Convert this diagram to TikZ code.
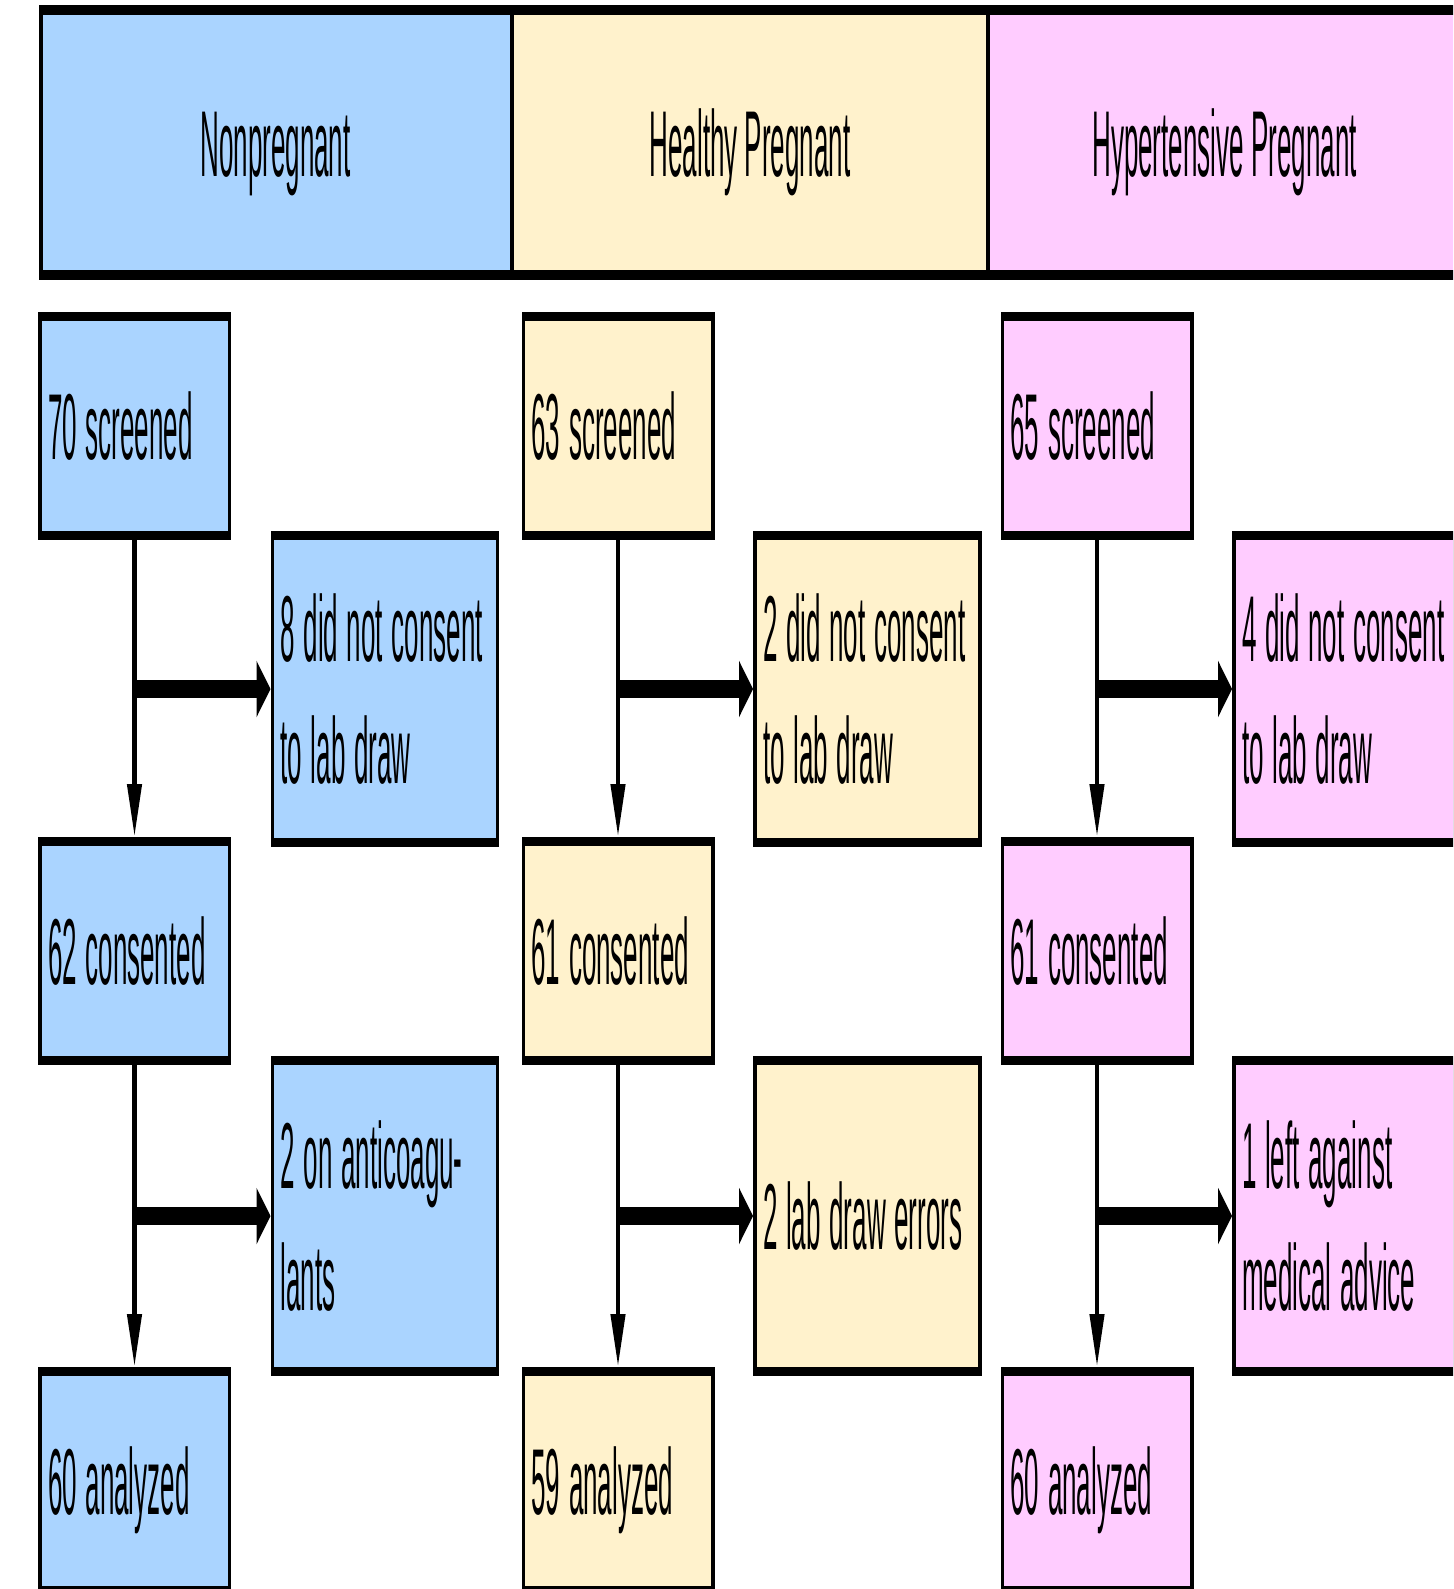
\documentclass[tikz,border=0pt]{standalone}
\usepackage{fontspec}
\setmainfont{Liberation Sans}
\usepackage{graphicx}
\usepackage{array}
\usetikzlibrary{arrows.meta}
\definecolor{cblue}{RGB}{170,212,255}
\definecolor{cyel}{RGB}{255,242,204}
\definecolor{cpink}{RGB}{255,204,255}
\newcommand\rowstrut{\rule[-3.825pt]{0pt}{16.96pt}}
\newcommand\vtext[1]{\scalebox{1}[3.6]{\renewcommand\arraystretch{0}\begin{tabular}{@{}>{\rowstrut}l@{}}#1\end{tabular}}}
\tikzset{
  pbox/.style={fill=black, inner ysep=0pt, inner xsep=5pt, outer sep=0pt, align=left,
    path picture={\fill[#1] ([shift={(1.75pt,-4.5pt)}]path picture bounding box.north west) rectangle ([shift={(-1.75pt,4.5pt)}]path picture bounding box.south east);}},
  mainbox/.style={pbox=#1, minimum width=96.5pt, minimum height=114pt, text width=86.5pt},
  sidebox/.style={pbox=#1, minimum width=114.25pt, text width=104.25pt},
  headcell/.style={fill=#1, draw=none, inner sep=0pt, outer sep=0pt, minimum height=137.25pt, align=center},
  vline/.style={line width=2.2pt, -{Triangle[length=26.5pt, width=7pt]}},
  harrow/.style={line width=9pt, -{Triangle[length=7pt, width=28pt]}}
}
\begin{document}
\begin{tikzpicture}[x=0.5pt, y=-0.5pt, font=\fontsize{13pt}{16.96pt}\selectfont]
\useasboundingbox (0,0) rectangle (1453,1589);
\clip (0,0) rectangle (1453,1589);
% header
\node[headcell=cblue, minimum width=236.5pt] (h1) at (275.5,142.75) {\vtext{Nonpregnant}};
\node[headcell=cyel, minimum width=238pt] (h2) at (750,142.75) {\vtext{Healthy Pregnant}};
\node[headcell=cpink, minimum width=236.5pt] (h3) at (1224.5,142.75) {\vtext{Hypertensive Pregnant}};
\fill (h1.north west) rectangle ([yshift=-4.75pt]h3.north east);
\fill ([yshift=5pt]h1.south west) rectangle (h3.south east);
\fill (h1.north west) rectangle ([xshift=1.75pt]h1.south west);
\fill ([xshift=-0.875pt]h1.north east) rectangle ([xshift=0.875pt]h1.south east);
\fill ([xshift=-0.875pt]h2.north east) rectangle ([xshift=0.875pt]h2.south east);
\fill ([xshift=-1.75pt]h3.north east) rectangle (h3.south east);
% column 1
\node[mainbox=cblue] (a1) at (134.5,426) {\vtext{70 screened}};
\node[sidebox=cblue, minimum height=158pt] (b1) at (384.75,689) {\vtext{8 did not consent\\to lab draw}};
\node[mainbox=cblue] (c1) at (134.5,951) {\vtext{62 consented}};
\node[sidebox=cblue, minimum height=160pt] (d1) at (384.75,1216) {\vtext{2 on anticoagu-\\lants}};
\node[mainbox=cblue] (e1) at (134.5,1481) {\vtext{60 analyzed}};
% column 2
\node[mainbox=cyel] (a2) at (618,426) {\vtext{63 screened}};
\node[sidebox=cyel, minimum height=158pt] (b2) at (867.25,689) {\vtext{2 did not consent\\to lab draw}};
\node[mainbox=cyel] (c2) at (618,951) {\vtext{61 consented}};
\node[sidebox=cyel, minimum height=160pt] (d2) at (867.25,1216) {\vtext{2 lab draw errors}};
\node[mainbox=cyel] (e2) at (618,1481) {\vtext{59 analyzed}};
% column 3
\node[mainbox=cpink] (a3) at (1097,426) {\vtext{65 screened}};
\node[sidebox=cpink, minimum height=158pt] (b3) at (1346.25,689) {\vtext{4 did not consent\\to lab draw}};
\node[mainbox=cpink] (c3) at (1097,951) {\vtext{61 consented}};
\node[sidebox=cpink, minimum height=160pt] (d3) at (1346.25,1216) {\vtext{1 left against\\medical advice}};
\node[mainbox=cpink] (e3) at (1097,1481) {\vtext{60 analyzed}};
% connectors
\foreach \i in {1,2,3}{
  \draw[vline] (a\i.south) -- (c\i.north);
  \draw[vline] (c\i.south) -- (e\i.north);
  \coordinate (jb\i) at (a\i.south |- b\i.west);
  \coordinate (jd\i) at (c\i.south |- d\i.west);
  \draw[harrow] (jb\i) -- (b\i.west);
  \draw[harrow] (jd\i) -- (d\i.west);
}
\end{tikzpicture}
\end{document}
